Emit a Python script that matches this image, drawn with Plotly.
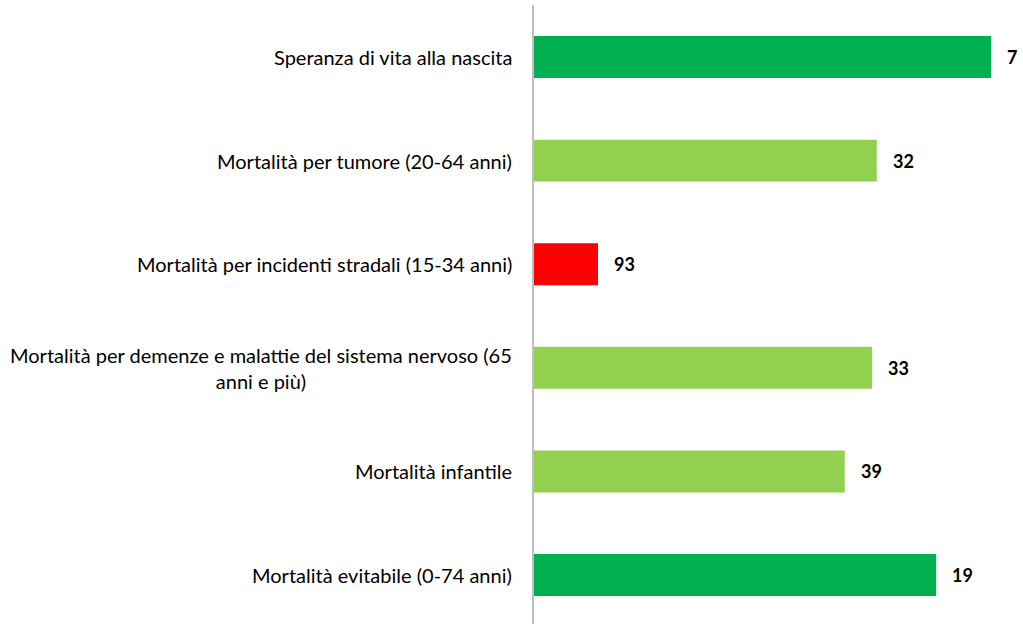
import plotly.graph_objects as go

categories = [
    "Speranza di vita alla nascita",
    "Mortalità per tumore (20-64 anni)",
    "Mortalità per incidenti stradali (15-34 anni)",
    "Mortalità per demenze e malattie del sistema nervoso (65<br>anni e più)",
    "Mortalità infantile",
    "Mortalità evitabile (0-74 anni)",
]
bar_values = [100, 75, 14, 74, 68, 88]
rank_labels = ["7", "32", "93", "33", "39", "19"]
bar_colors = ["#00B050", "#92D050", "#FF0000", "#92D050", "#92D050", "#00B050"]

FONT = "Lato"
ypos = list(range(len(categories)))

fig = go.Figure()
fig.add_trace(go.Bar(
    x=bar_values, y=ypos, orientation="h",
    marker=dict(color=bar_colors, line=dict(width=0)),
    width=0.405, hoverinfo="skip",
))

annotations = []
for i, (v, lab, cat) in enumerate(zip(bar_values, rank_labels, categories)):
    annotations.append(dict(
        x=v, y=i, xref="x", yref="y", text=f"<b>{lab}</b>", showarrow=False,
        xanchor="left", yanchor="middle", xshift=14,
        font=dict(family=FONT, size=18, color="#000000"),
    ))
    annotations.append(dict(
        x=0, y=i, xref="paper", yref="y", text=cat, showarrow=False,
        xanchor="right", yanchor="middle", xshift=-20, align="center",
        font=dict(family=FONT, size=20, color="#000000"),
    ))

fig.update_layout(
    width=1023, height=624,
    margin=dict(l=534, r=0, t=5, b=0),
    paper_bgcolor="white", plot_bgcolor="white",
    showlegend=False,
    annotations=annotations,
    xaxis=dict(range=[0, 107], showgrid=False, zeroline=False,
               showticklabels=False, showline=False, ticks=""),
    yaxis=dict(range=[5.473, -0.502], showgrid=False, zeroline=False,
               showticklabels=False, ticks="", showline=True,
               linecolor="#BFBFBF", linewidth=2),
)

fig.write_html(
    "out.html",
    config={"displayModeBar": False},
    post_script="document.body.style.margin='0';document.body.style.overflow='hidden';",
)
